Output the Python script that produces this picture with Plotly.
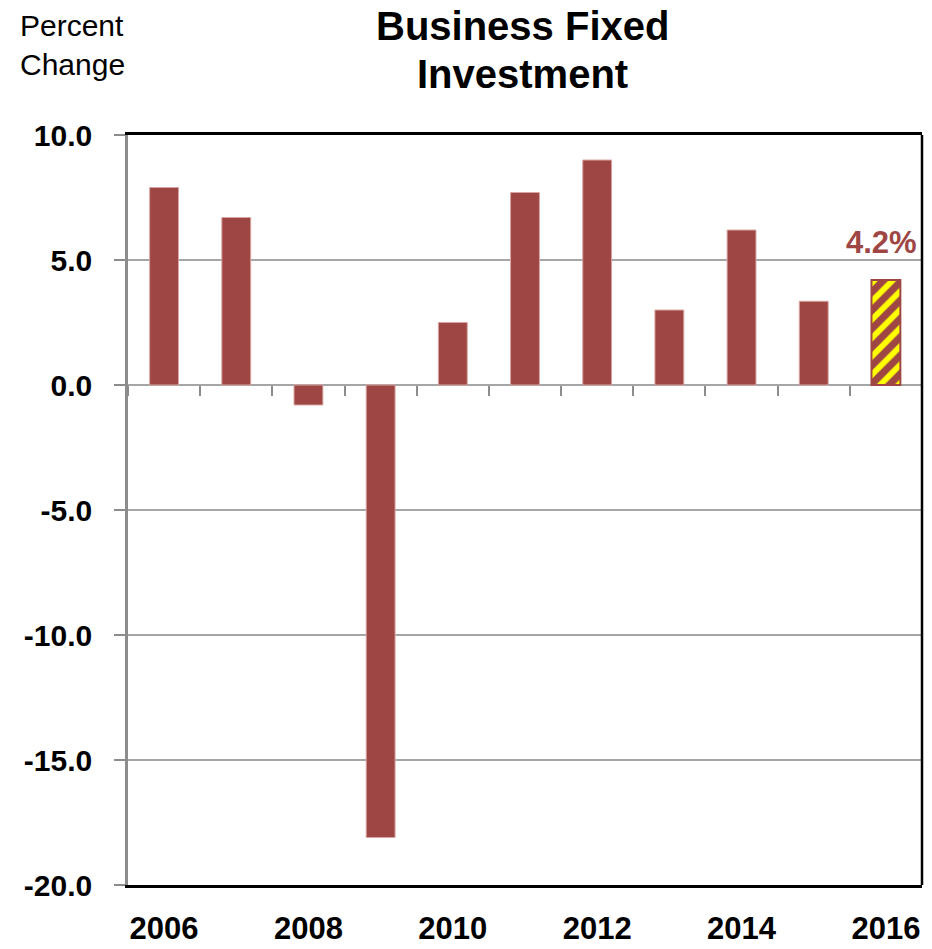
import plotly.graph_objects as go

years = [2006, 2007, 2008, 2009, 2010, 2011, 2012, 2013, 2014, 2015]
values = [7.9, 6.7, -0.8, -18.1, 2.5, 7.7, 9.0, 3.0, 6.2, 3.35]
forecast_year = [2016]
forecast_value = [4.2]
forecast_label = "4.2%"
x_tick_vals = [2006, 2008, 2010, 2012, 2014, 2016]
x_tick_text = ["2006", "2008", "2010", "2012", "2014", "2016"]
boundaries = [2005.5 + i for i in range(12)]
y_ticks = [-20, -15, -10, -5, 0, 5, 10]
y_tick_text = ["-20.0", "-15.0", "-10.0", "-5.0", "0.0", "5.0", "10.0"]
title_lines = ["Business Fixed", "Investment"]

BAR = "#9E4643"
EDGE = "#D9A5A3"
GRID = "#A6A6A6"
FONT = "Arial, Liberation Sans, sans-serif"

fig = go.Figure()
fig.add_trace(go.Bar(x=years, y=values, width=0.4,
                     marker=dict(color=BAR, line=dict(color=EDGE, width=1)),
                     showlegend=False, hoverinfo="skip"))
fig.add_trace(go.Bar(x=forecast_year, y=forecast_value, width=0.4,
                     marker=dict(color="#FFFF00", line=dict(color=BAR, width=2),
                                 pattern=dict(shape="/", fgcolor=BAR, bgcolor="#FFFF00",
                                              fgopacity=1, size=13, solidity=0.55)),
                     showlegend=False, hoverinfo="skip"))
# helper trace for the tick-mark axis along the zero line
fig.add_trace(go.Scatter(x=boundaries, y=[None] * len(boundaries), xaxis="x2",
                         mode="markers", showlegend=False, hoverinfo="skip"))

fig.add_annotation(x=forecast_year[0], y=forecast_value[0], text="<b>" + forecast_label + "</b>",
                   showarrow=False, yanchor="bottom", yshift=18, xshift=-4,
                   font=dict(family=FONT, size=31, color=BAR))

fig.add_annotation(x=-0.139, xref="paper", y=1.171, yref="paper",
                   text="Percent<br>Change", showarrow=False, align="left",
                   xanchor="left", yanchor="top",
                   font=dict(family=FONT, size=30, color="#000000"))

# title, one annotation per line
fig.add_annotation(x=0.4965, xref="paper", y=1.145, yref="paper",
                   text="<b>" + title_lines[0] + "</b>", showarrow=False,
                   xanchor="center", yanchor="middle",
                   font=dict(family=FONT, size=40, color="#000000"))
fig.add_annotation(x=0.4965, xref="paper", y=1.081, yref="paper",
                   text="<b>" + title_lines[1] + "</b>", showarrow=False,
                   xanchor="center", yanchor="middle",
                   font=dict(family=FONT, size=40, color="#000000"))

# right border
fig.add_shape(type="line", xref="paper", yref="paper", x0=1, x1=1, y0=0, y1=1,
              line=dict(color="#000000", width=2.5))

fig.update_layout(
    width=924, height=941,
    margin=dict(l=120, r=10, t=127, b=64),
    paper_bgcolor="white", plot_bgcolor="white",
    barmode="overlay",
    xaxis=dict(range=[2005.5, 2016.5], tickvals=x_tick_vals, ticktext=x_tick_text,
               ticks="", showgrid=False, zeroline=False, automargin=False,
               ticklabelstandoff=14,
               showline=True, linecolor="#000000", linewidth=2.5, mirror=True,
               tickfont=dict(family=FONT, size=31, color="#000000", weight="bold")),
    xaxis2=dict(range=[2005.5, 2016.5], overlaying="x", anchor="free", position=2/3,
                tickvals=boundaries, ticks="outside", ticklen=10, tickwidth=2,
                tickcolor="#8C8C8C", showticklabels=False, showline=False,
                showgrid=False, zeroline=False, automargin=False),
    yaxis=dict(range=[-20, 10], tickvals=y_ticks, ticktext=y_tick_text,
               ticks="outside", ticklen=11, tickwidth=2, tickcolor="#8C8C8C",
               ticklabelstandoff=16, automargin=False,
               showgrid=True, gridcolor=GRID, gridwidth=2,
               zeroline=False, showline=True, linecolor="#8C8C8C", linewidth=2.5,
               tickfont=dict(family=FONT, size=30, color="#000000", weight="bold")),
)

fig.write_html("out.html")
